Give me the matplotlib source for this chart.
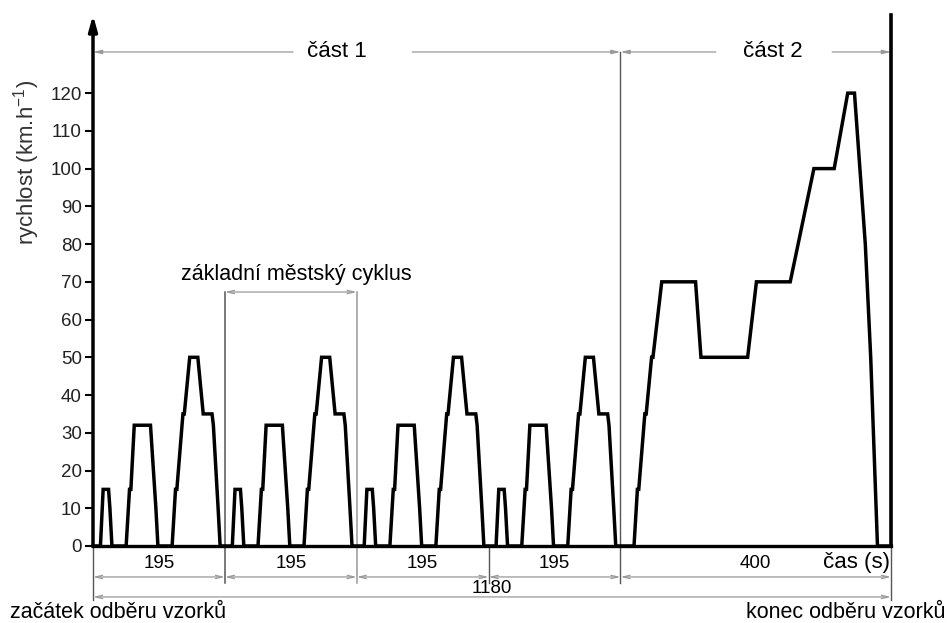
import numpy as np
import matplotlib
matplotlib.use('Agg')
import matplotlib.pyplot as plt

plt.rcParams['font.family'] = ['Liberation Sans', 'DejaVu Sans']

# ECE-15 basic urban cycle (195 s), repeated four times
ece_t = [0, 11, 15, 23, 25, 28, 49, 54, 56, 61, 85, 93, 96, 117, 122, 124,
         133, 135, 143, 155, 163, 176, 178, 185, 188, 195]
ece_v = [0, 0, 15, 15, 10, 0, 0, 15, 15, 32, 32, 10, 0, 0, 15, 15,
         35, 35, 50, 50, 35, 35, 32, 10, 0, 0]
n_ece = 4
ece_len = 195

# EUDC extra-urban part (400 s)
eudc_t = [0, 20, 25, 27, 36, 38, 46, 48, 61, 111, 119, 188, 201, 251, 286,
          316, 336, 346, 362, 370, 380, 400]
eudc_v = [0, 0, 15, 15, 35, 35, 50, 50, 70, 70, 50, 50, 70, 70, 100,
          100, 120, 120, 80, 50, 0, 0]
eudc_len = 400

yticks = list(range(0, 130, 10))
total = n_ece * ece_len + eudc_len

t = np.concatenate([np.array(ece_t) + k * ece_len for k in range(n_ece)] +
                   [np.array(eudc_t) + n_ece * ece_len])
v = np.concatenate([ece_v] * n_ece + [eudc_v])

W, H = 951, 623
fig = plt.figure(figsize=(W / 100., H / 100.), dpi=100)
ymax = 140.7
ax = fig.add_axes([93. / W, (H - 546.) / H, (891. - 93.) / W, 531. / H])
ax.set_xlim(0, total)
ax.set_ylim(0, ymax)
for s in ax.spines.values():
    s.set_visible(False)
ax.set_xticks([])
ax.set_yticks(yticks)
ax.tick_params(axis='y', length=6, width=1.5, labelsize=13.5, pad=2,
               labelcolor='#222222')

# speed trace
ax.plot(t, v, color='k', lw=2.5, solid_joinstyle='miter', clip_on=False, zorder=3)

# axes drawn by hand: arrow on y, heavy base line, end line
ax.annotate('', xy=(0, ymax), xytext=(0, 0),
            arrowprops=dict(arrowstyle='-|>,head_length=0.9,head_width=0.25',
                            lw=2.5, color='k', shrinkA=0, shrinkB=0),
            annotation_clip=False)
ax.plot([0, total], [0, 0], color='k', lw=2.4, clip_on=False, zorder=4)
ax.plot([total, total], [0, ymax], color='k', lw=2.6, clip_on=False, zorder=4)

gray = '#555555'
dim = '#999999'

def dimline(x0, x1, y, arrows='<->'):
    ax.annotate('', xy=(x1, y), xytext=(x0, y),
                arrowprops=dict(arrowstyle=arrows + ',head_length=0.5,head_width=0.12',
                                lw=0.9, color=dim, shrinkA=0, shrinkB=0),
                annotation_clip=False)

# extension lines
b1, b2, b3, b4 = [k * ece_len for k in range(1, 5)]
ax.plot([0, 0], [0, -14.3], color=gray, lw=1, clip_on=False)
ax.plot([total, total], [0, -14.3], color=gray, lw=1, clip_on=False)
ax.plot([b1, b1], [67.3, -9.8], color=gray, lw=1.1, clip_on=False)
ax.plot([b2, b2], [67.3, -9.8], color='#999999', lw=1.1, clip_on=False)
ax.plot([b3, b3], [0, -9.8], color=gray, lw=1, clip_on=False)
ax.plot([b4, b4], [130.9, -9.8], color=gray, lw=1, clip_on=False)

# top: part 1 / part 2
ytop = 130.9
dimline(296, 0, ytop, '-|>')
dimline(472, b4, ytop, '-|>')
ax.text(361, ytop, 'část 1', ha='center', va='center', fontsize=16)
dimline(921, b4, ytop, '-|>')
dimline(1093, total, ytop, '-|>')
ax.text(1005, ytop, 'část 2', ha='center', va='center', fontsize=16)

# basic urban cycle
dimline(b1, b2, 67.3)
ax.text(300, 72.0, 'základní městský cyklus', ha='center', va='center', fontsize=15.5)

# segment durations below the axis
bounds = [0, b1, b2, b3, b4, total]
labels = ['195', '195', '195', '195', '400']
for x0, x1, lab in zip(bounds[:-1], bounds[1:], labels):
    dimline(x0, x1, -8.2)
    ax.text((x0 + x1) / 2., -4.6, lab, ha='center', va='center', fontsize=13.5)

dimline(0, total, -13.5)
ax.text(total / 2., -11.3, '1180', ha='center', va='center', fontsize=13.5)

ax.text(total - 2, -4.3, 'čas (s)', ha='right', va='center', fontsize=16)
fig.text(10. / W, 1 - 612. / H, 'začátek odběru vzorků', ha='left', va='center', fontsize=15.5)
fig.text(946. / W, 1 - 612. / H, 'konec odběru vzorků', ha='right', va='center', fontsize=15.5)
fig.text(27. / W, 1 - 162. / H, r'rychlost (km.h$^{\mathregular{-1}}$)', rotation=90,
         ha='center', va='center', fontsize=16, color='#333333')

fig.savefig('out.png', dpi=100, facecolor='w')
